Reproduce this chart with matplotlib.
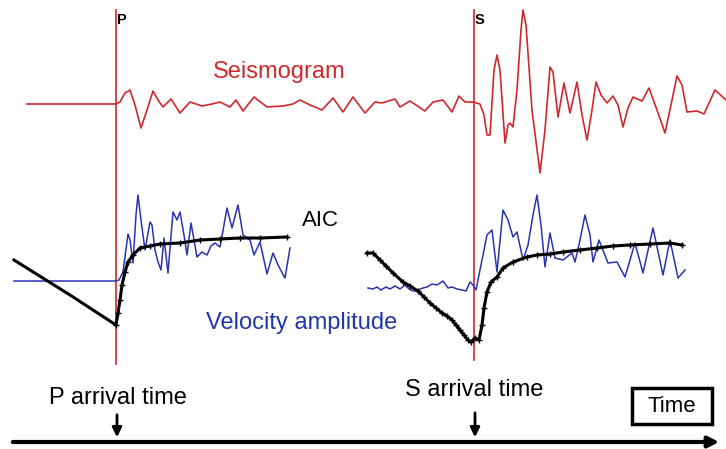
import matplotlib
matplotlib.use("Agg")
import matplotlib.pyplot as plt
from matplotlib.patches import Rectangle

plt.rcParams["font.family"] = ["Liberation Sans", "DejaVu Sans"]

# picture is drawn in pixel space: x = time, y = screen row (down is larger)
p_pick = 116
s_pick = 474

# seismogram trace
seis_x = [27, 116, 120, 125, 130, 135, 141, 147, 153, 158, 163, 171, 180, 190, 202, 212,
          220, 230, 236, 243, 254, 267, 283, 293, 300, 310, 322, 333, 343, 353, 365, 375,
          382, 395, 400, 410, 425, 433, 443, 452, 459, 465, 473, 480, 484, 487, 490, 494,
          497, 500, 505, 508, 510, 513, 517, 521, 523, 526, 532, 540, 545, 550, 553, 558,
          564, 570, 577, 582, 587, 592, 596, 601, 607, 613, 618, 623, 628, 633, 642, 649,
          657, 665, 672, 677, 682, 687, 697, 704, 715, 726]
seis_y = [104, 104, 102, 93, 90, 105, 128, 110, 91, 100, 107, 99, 113, 102, 106, 104,
          102, 107, 100, 111, 97, 107, 106, 104, 100, 105, 110, 98, 112, 97, 113, 102,
          103, 99, 107, 101, 111, 102, 100, 112, 96, 102, 102, 104, 115, 135, 135, 70,
          55, 70, 143, 125, 123, 127, 90, 30, 10, 25, 110, 173, 130, 67, 72, 117,
          83, 113, 82, 115, 140, 110, 82, 95, 103, 96, 105, 127, 108, 97, 101, 88,
          110, 133, 100, 76, 85, 112, 111, 114, 90, 100]

# P window: velocity amplitude and AIC
vel_p_x = [14, 116, 119, 123, 128, 130, 133, 136, 138, 141, 145, 150, 152, 155, 158, 161,
           164, 168, 173, 177, 180, 184, 187, 191, 197, 202, 207, 211, 215, 220, 224, 227,
           232, 238, 243, 250, 254, 260, 267, 273, 278, 285, 290]
vel_p_y = [281, 281, 280, 272, 234, 240, 263, 215, 195, 220, 250, 222, 225, 250, 262, 270,
           238, 273, 212, 220, 212, 235, 255, 223, 257, 252, 255, 246, 243, 247, 225, 208,
           228, 205, 235, 240, 255, 242, 274, 253, 265, 278, 248]
aic_p_x = [14, 70, 116, 118, 120, 122, 125, 128, 133, 140, 150, 160, 180, 200, 220, 240, 260, 287]
aic_p_y = [260, 295, 325, 313, 300, 285, 272, 262, 255, 248, 246, 244, 243, 240, 239, 238, 238, 237]

# S window: velocity amplitude and AIC
vel_s_x = [368, 373, 377, 381, 386, 390, 395, 400, 405, 409, 413, 418, 423, 427, 432, 437,
           443, 448, 452, 457, 462, 466, 470, 473, 476, 482, 487, 492, 497, 503, 508, 513,
           517, 523, 528, 533, 537, 541, 545, 550, 555, 563, 572, 575, 580, 585, 590, 593,
           599, 608, 617, 625, 635, 643, 653, 663, 670, 678, 685]
vel_s_y = [288, 289, 287, 290, 287, 289, 286, 289, 285, 289, 291, 290, 288, 287, 284, 285,
           281, 288, 287, 289, 290, 291, 282, 285, 290, 260, 235, 230, 272, 210, 220, 237,
           232, 260, 245, 215, 195, 225, 267, 233, 258, 260, 253, 262, 240, 215, 235, 262,
           240, 263, 262, 277, 243, 273, 228, 275, 240, 278, 270]
aic_s_x = [367, 373, 380, 386, 393, 403, 410, 418, 424, 430, 436, 442, 447, 452, 456, 460,
           464, 468, 471, 475, 479, 482, 484, 487, 491, 497, 503, 513, 527, 537, 550, 563,
           580, 597, 613, 630, 650, 670, 682]
aic_s_y = [253, 253, 260, 266, 273, 282, 286, 291, 297, 303, 308, 313, 316, 320, 325, 330,
           335, 340, 342, 338, 340, 325, 308, 292, 282, 277, 268, 262, 257, 255, 254, 252,
           250, 248, 246, 245, 244, 243, 245]

red = "#d0282c"
blue = "#2a33b0"

fig = plt.figure(figsize=(7.26, 4.49), dpi=100)
ax = fig.add_axes([0, 0, 1, 1])
ax.set_xlim(0, 726)
ax.set_ylim(449, 0)
ax.axis("off")

# picks
ax.plot([p_pick, p_pick], [10, 364], color=red, lw=1.2)
ax.plot([s_pick, s_pick], [10, 360], color=red, lw=1.2)
ax.text(p_pick + 1, 20, "P", fontsize=10.5, fontweight="bold", va="center", ha="left")
ax.text(s_pick + 1, 20, "S", fontsize=10.5, fontweight="bold", va="center", ha="left")

ax.plot(seis_x, seis_y, color=red, lw=1.2)
ax.text(279, 72, "Seismogram", color=red, fontsize=17, ha="center", va="center")

ax.plot(vel_p_x, vel_p_y, color=blue, lw=1.1)
ax.plot(vel_s_x, vel_s_y, color=blue, lw=1.1)

ax.plot(aic_p_x, aic_p_y, color="k", lw=2.2)
ax.plot(aic_p_x[2:], aic_p_y[2:], ls="none", marker="+", ms=5, mew=1, color="k")
ax.plot(aic_s_x, aic_s_y, color="k", lw=2.2, marker="+", ms=5, mew=1)

ax.text(320, 221, "AIC", fontsize=16, ha="center", va="center")
ax.text(302, 323, "Velocity amplitude", color="#2236a8", fontsize=17, ha="center", va="center")

# time axis
ax.annotate("", xy=(722, 442), xytext=(10, 442),
            arrowprops=dict(arrowstyle="-|>", lw=3, color="k", mutation_scale=16))
ax.annotate("", xy=(p_pick + 1, 440), xytext=(p_pick + 1, 412),
            arrowprops=dict(arrowstyle="-|>", lw=2, color="k", mutation_scale=14))
ax.annotate("", xy=(s_pick + 1, 440), xytext=(s_pick + 1, 410),
            arrowprops=dict(arrowstyle="-|>", lw=2, color="k", mutation_scale=14))
ax.text(118, 398, "P arrival time", fontsize=17, ha="center", va="center")
ax.text(474, 390, "S arrival time", fontsize=17, ha="center", va="center")

ax.add_patch(Rectangle((632, 388), 80, 36, fill=False, lw=2.5, ec="k"))
ax.text(672, 406, "Time", fontsize=16, ha="center", va="center")

fig.savefig("out.png", dpi=100)
